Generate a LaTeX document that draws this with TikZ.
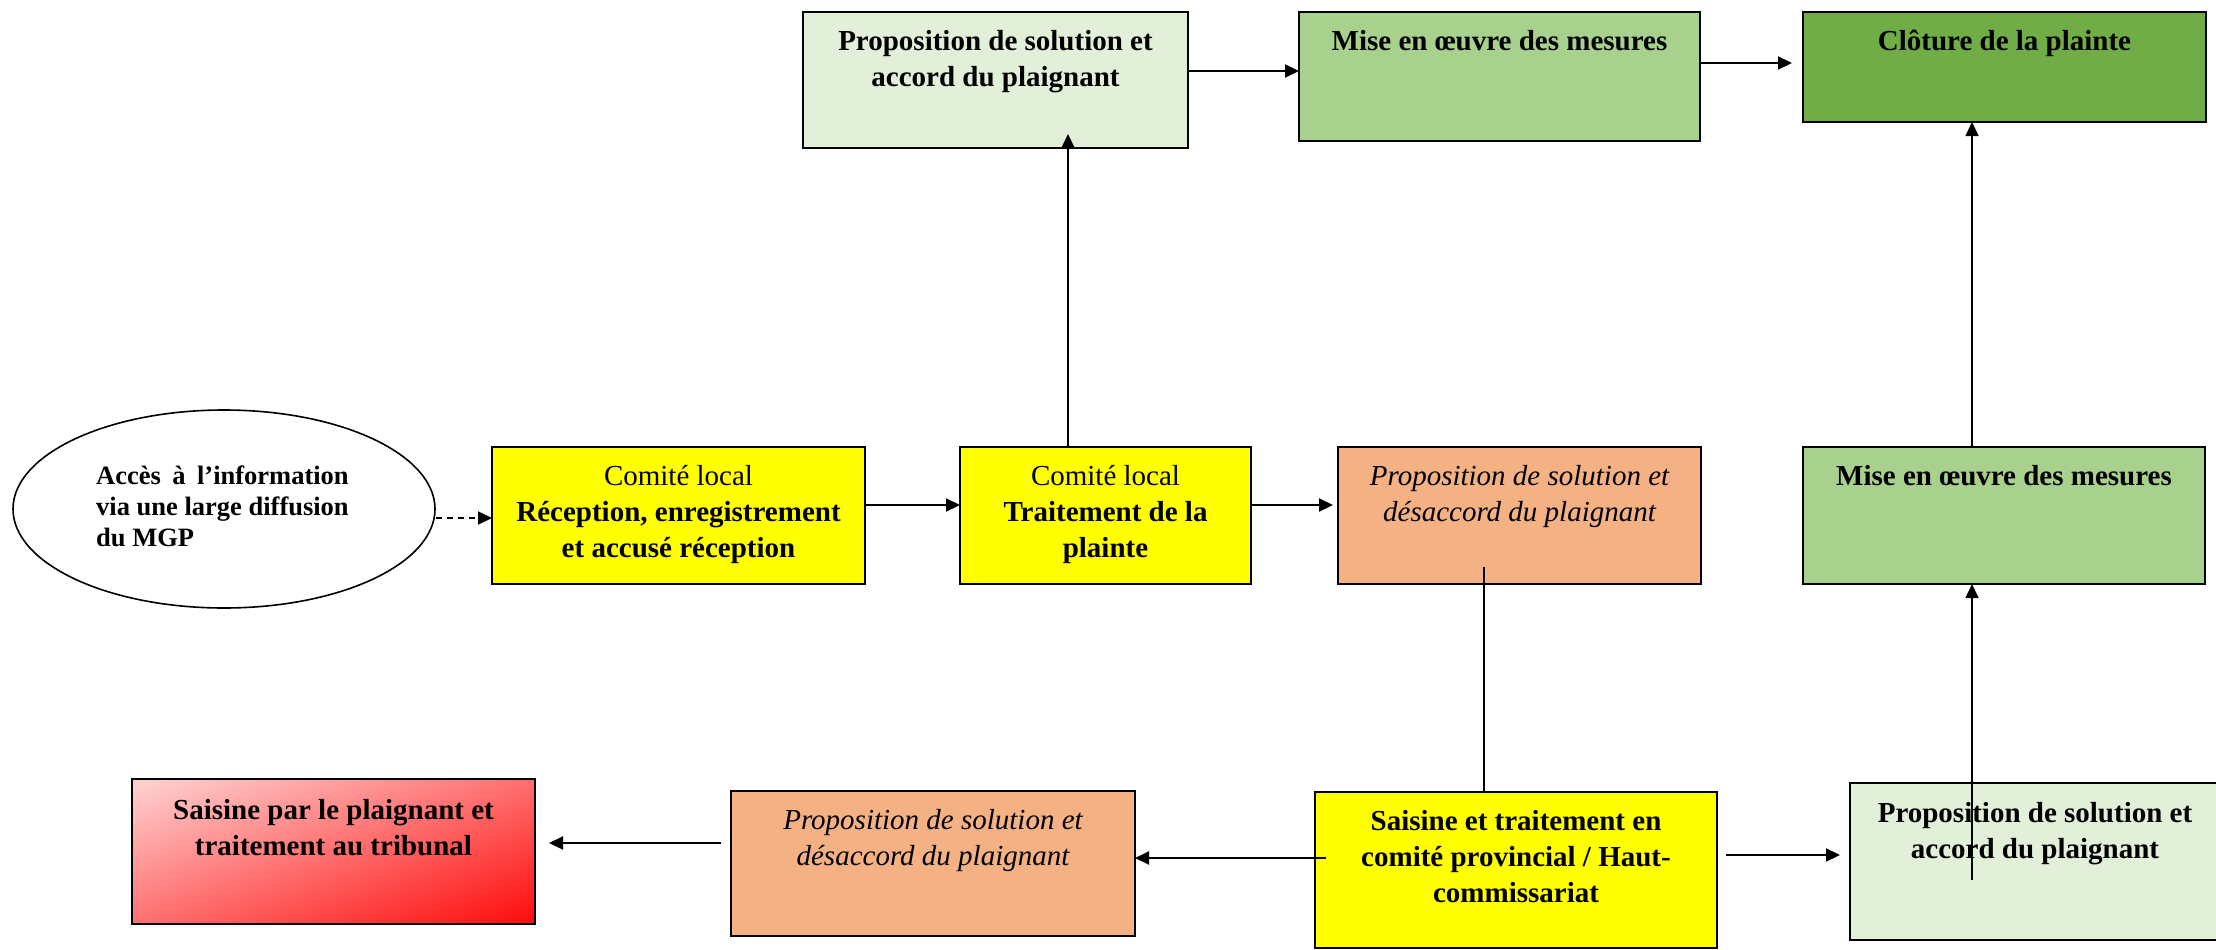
\documentclass[tikz,border=0pt]{standalone}
\usepackage{fontspec}
\setmainfont{Liberation Serif}
\usepackage{calc}
\usetikzlibrary{arrows.meta,shapes.geometric,calc}
\definecolor{yel}{HTML}{FFFF00}
\definecolor{lgreen}{HTML}{E2EFD9}
\definecolor{mgreen}{HTML}{A9D18E}
\definecolor{dgreen}{HTML}{70AD47}
\definecolor{orng}{HTML}{F4B183}
\definecolor{pinkl}{HTML}{FFD4D4}
\definecolor{pinkm}{HTML}{FFA2A2}
\definecolor{redd}{HTML}{FF0A0A}
\newcommand{\fst}{\rule{0pt}{30pt}}
\newcommand{\est}{\rule{0pt}{27pt}}
\begin{document}
\begin{tikzpicture}[x=1pt,y=-1pt,
  box/.style={draw=black, line width=2pt, inner sep=0pt, outer sep=0pt},
  txt/.style={anchor=north, align=center, inner sep=0pt, font=\fontsize{29}{36}\selectfont},
  btxt/.style={txt, font=\fontsize{29}{36}\selectfont\bfseries},
  itxt/.style={txt, font=\fontsize{29}{36}\selectfont\itshape},
  arr/.style={line width=2pt, -{Triangle[length=14pt,width=13pt]}},
  ln/.style={line width=1.6pt}]
\useasboundingbox (0,0) rectangle (2216,950);
% ellipse
\node[draw=black, line width=1.6pt, ellipse, minimum width=422pt, minimum height=198pt, inner sep=0pt] (ell) at (224,509) {};
\node[anchor=north west, align=left, inner sep=0pt, font=\fontsize{26.5}{31}\selectfont\bfseries] (ellt) at (96,457)
  {\est\makebox[\widthof{via une large diffusion}][s]{Accès à l’information}\\via une large diffusion\\du MGP};
% middle row
\node[box, fill=yel, minimum width=373pt, minimum height=137pt] (A) at (678.5,515.5) {};
\node[txt] (At) at ([yshift=-8pt]A.north) {\fst Comité local\\\textbf{Réception, enregistrement}\\\textbf{et accusé réception}};
\node[box, fill=yel, minimum width=291pt, minimum height=137pt] (B) at (1105.5,515.5) {};
\node[txt] (Bt) at ([yshift=-8pt]B.north) {\fst Comité local\\\textbf{Traitement de la}\\\textbf{plainte}};
\node[box, fill=orng, minimum width=363pt, minimum height=137pt] (C) at (1519.5,515.5) {};
\node[itxt] (Ct) at ([yshift=-8pt]C.north) {\fst Proposition de solution et\\désaccord du plaignant};
\node[box, fill=mgreen, minimum width=402pt, minimum height=137pt] (D) at (2004,515.5) {};
\node[btxt] (Dt) at ([yshift=-8pt]D.north) {\fst Mise en œuvre des mesures};
% top row
\node[box, fill=lgreen, minimum width=385pt, minimum height=136pt] (E) at (995.5,80) {};
\node[btxt] (Et) at ([yshift=-8pt]E.north) {\fst Proposition de solution et\\accord du plaignant};
\node[box, fill=mgreen, minimum width=401pt, minimum height=129pt] (F) at (1499.5,76.5) {};
\node[btxt] (Ft) at ([yshift=-8pt]F.north) {\fst Mise en œuvre des mesures};
\node[box, fill=dgreen, minimum width=403pt, minimum height=110pt] (G) at (2004.5,67) {};
\node[btxt] (Gt) at ([yshift=-8pt]G.north) {\fst Clôture de la plainte};
% bottom row: gradient box
\coordinate (hc) at (333.5,851.5);
\begin{scope}
  \clip (132,779) rectangle (535,924);
  \begin{scope}[transform canvas={rotate around={20:(hc)}}]
    \shade[top color=pinkl, middle color=pinkm, bottom color=redd]
      ($(hc)+(-216pt,-138pt)$) rectangle ($(hc)+(216pt,138pt)$);
  \end{scope}
\end{scope}
\node[box, minimum width=403pt, minimum height=145pt] (H) at (hc) {};
\node[btxt] (Ht) at ([yshift=-10pt]H.north) {\fst Saisine par le plaignant et\\traitement au tribunal};
\node[box, fill=orng, minimum width=404pt, minimum height=145pt] (I) at (933,863.5) {};
\node[itxt] (It) at ([yshift=-8pt]I.north) {\fst Proposition de solution et\\désaccord du plaignant};
\node[box, fill=yel, minimum width=402pt, minimum height=156pt] (J) at (1516,870) {};
\node[btxt] (Jt) at ([yshift=-8pt]J.north) {\fst Saisine et traitement en\\comité provincial / Haut-\\commissariat};
\node[box, fill=lgreen, minimum width=370pt, minimum height=157pt] (K) at (2035,861.5) {};
\node[btxt] (Kt) at ([yshift=-9pt]K.north) {\fst Proposition de solution et\\accord du plaignant};
% free-end coordinates
\coordinate (cE) at (1068,134);
\coordinate (cC) at (1484,567);
\coordinate (cJ) at (1326,858);
\coordinate (cK) at (1972,880);
% connectors
\draw[arr, dash pattern=on 6pt off 5pt] (ell.east |- 0,518) -- (A.west |- 0,518);
\draw[arr] (A.east |- 0,505) -- (B.west |- 0,505);
\draw[arr, shorten >=5pt] (B.east |- 0,505) -- (C.west |- 0,505);
\draw[arr, line width=1.6pt] (cE |- B.north) -- (cE);
\draw[arr] (E.east |- 0,71) -- (F.west |- 0,71);
\draw[arr, shorten >=11pt] (F.east |- 0,63) -- (G.west |- 0,63);
\draw[ln] (cC) -- (cC |- J.north);
\draw[arr] (cJ) -- (cJ -| I.east);
\draw[arr, shorten <=10pt, shorten >=14pt] (I.west |- 0,843) -- (H.east |- 0,843);
\draw[arr, shorten <=9pt, shorten >=10pt] (J.east |- 0,855) -- (K.west |- 0,855);
\draw[arr, line width=1.6pt] (cK) -- (cK |- D.south);
\draw[arr, line width=1.6pt] (cK |- D.north) -- (cK |- G.south);
\end{tikzpicture}
\end{document}
